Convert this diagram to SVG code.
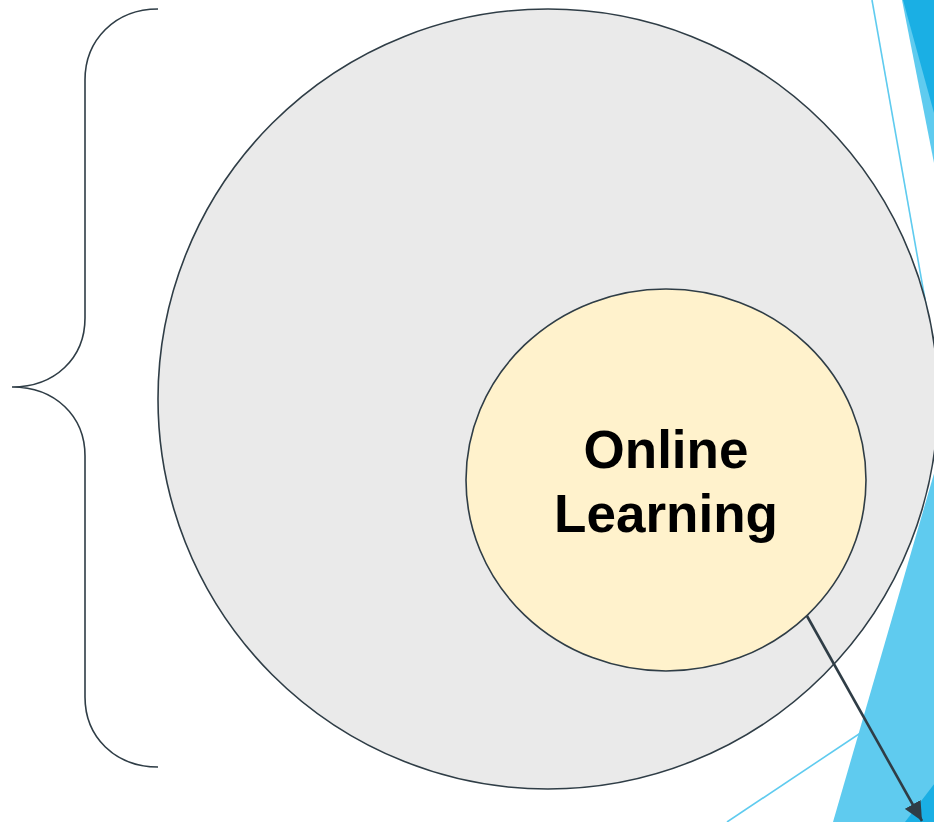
<svg xmlns="http://www.w3.org/2000/svg" width="934" height="822" viewBox="0 0 934 822">
<defs>
<style>
.outline{stroke:#2F3D46;stroke-width:1.6;}
.thin{stroke:#5FCBEF;stroke-width:1.6;fill:none;}
.lb{fill:#5FCBEF;}
.db{fill:#1AAFE4;}
.lbl{font-family:"Liberation Sans",Arial,sans-serif;font-weight:bold;font-size:53px;fill:#000;text-anchor:middle;}
</style>
<marker id="arr" markerUnits="userSpaceOnUse" markerWidth="20" markerHeight="18" refX="19" refY="9" orient="auto">
<path d="M0,0 L19,9 L0,18 Z" fill="#2F3D46"/>
</marker>
</defs>
<rect width="934" height="822" fill="#FFFFFF"/>
<g id="decoration">
<line class="thin" x1="872" y1="0" x2="935" y2="356"/>
<line class="thin" x1="727" y1="822" x2="880" y2="720"/>
<polygon class="lb" points="902,0 934,0 934,163"/>
<polygon class="db" points="903,0 934,0 934,113"/>
<polygon class="lb" points="833,822 935,470 935,822"/>
<polygon class="db" points="905,822 935,783 935,822"/>
</g>
<g id="brace">
<path class="outline" fill="none" d="M158,9 C115,9 85,40 85,80 L85,318 C85,358 55,387 12,387 C55,387 85,416 85,456 L85,697 C85,737 115,767 158,767"/>
</g>
<g id="outer-circle">
<ellipse class="outline" cx="548" cy="399" rx="390" ry="390" fill="#EAEAEA"/>
</g>
<g id="inner-circle">
<ellipse class="outline" cx="666" cy="480" rx="200" ry="191" fill="#FFF2CC"/>
<text class="lbl" x="666" y="468">Online</text>
<text class="lbl" x="666" y="532">Learning</text>
</g>
<g id="connectors">
<line x1="807" y1="616" x2="922" y2="821" stroke="#2F3D46" stroke-width="2.6" marker-end="url(#arr)"/>
</g>
</svg>
